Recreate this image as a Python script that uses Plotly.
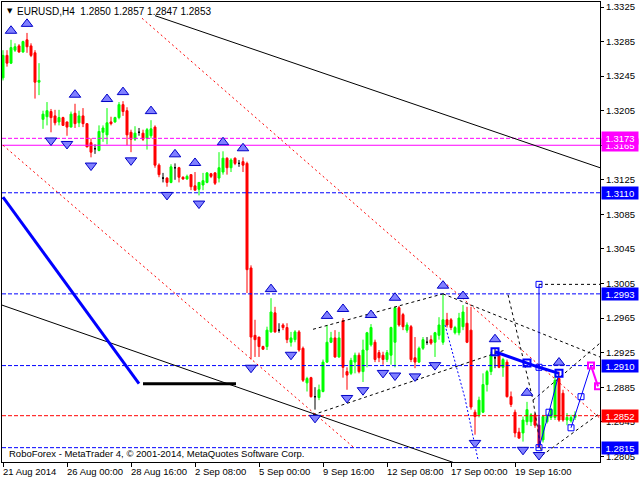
import plotly.graph_objects as go

# ---------------- data ----------------
symbol = "EURUSD,H4"
tick_idx = [0, 16, 32, 48, 64, 80, 96, 112, 128]
tick_text = ["21 Aug 2014", "26 Aug 00:00", "28 Aug 16:00", "2 Sep 08:00", "5 Sep 00:00",
             "9 Sep 16:00", "12 Sep 08:00", "17 Sep 00:00", "19 Sep 16:00"]
price_ticks = [1.2805, 1.2845, 1.2885, 1.2925, 1.2965, 1.3005, 1.3045, 1.3085, 1.3125,
               1.3165, 1.3205, 1.3245, 1.3285, 1.3325]
hidden_ticks = [1.3165]

opens = [1.3243, 1.3269, 1.3260, 1.3275, 1.3280, 1.3273, 1.3287, 1.3280, 1.3272, 1.3238,
         1.3195, 1.3198, 1.3204, 1.3199, 1.3192, 1.3197, 1.3192, 1.3186, 1.3202, 1.3191,
         1.3199, 1.3190, 1.3168, 1.3161, 1.3159, 1.3180, 1.3177, 1.3192, 1.3192, 1.3197,
         1.3212, 1.3205, 1.3180, 1.3172, 1.3180, 1.3179, 1.3173, 1.3176, 1.3186, 1.3142,
         1.3127, 1.3127, 1.3122, 1.3139, 1.3139, 1.3128, 1.3126, 1.3131, 1.3118, 1.3114,
         1.3119, 1.3122, 1.3132, 1.3133, 1.3127, 1.3134, 1.3150, 1.3139, 1.3150, 1.3144,
         1.3146, 1.3144, 1.3023, 1.2945, 1.2943, 1.2932, 1.2932, 1.2949, 1.2971, 1.2951,
         1.2957, 1.2954, 1.2937, 1.2940, 1.2949, 1.2930, 1.2890, 1.2896, 1.2874, 1.2873,
         1.2880, 1.2914, 1.2937, 1.2942, 1.2920, 1.2962, 1.2903, 1.2901, 1.2914, 1.2922,
         1.2903, 1.2928, 1.2934, 1.2937, 1.2925, 1.2922, 1.2917, 1.2922, 1.2937, 1.2977,
         1.2969, 1.2951, 1.2955, 1.2919, 1.2914, 1.2930, 1.2937, 1.2940, 1.2937, 1.2945,
         1.2937, 1.2963, 1.2963, 1.2948, 1.2948, 1.2955, 1.2959, 1.2951, 1.2856, 1.2853,
         1.2856, 1.2888, 1.2903, 1.2919, 1.2922, 1.2908, 1.2914, 1.2874, 1.2856, 1.2833,
         1.2832, 1.2845, 1.2845, 1.2853, 1.2841, 1.2824, 1.2845, 1.2850, 1.2850, 1.2895,
         1.2878, 1.2847, 1.2846, 1.2850]
highs = [1.3275, 1.3275, 1.3287, 1.3283, 1.3282, 1.3286, 1.3295, 1.3283, 1.3275, 1.3260,
         1.3205, 1.3215, 1.3207, 1.3206, 1.3206, 1.3198, 1.3192, 1.3204, 1.3213, 1.3205,
         1.3208, 1.3190, 1.3173, 1.3166, 1.3188, 1.3188, 1.3208, 1.3198, 1.3198, 1.3215,
         1.3216, 1.3209, 1.3183, 1.3187, 1.3185, 1.3183, 1.3185, 1.3194, 1.3188, 1.3144,
         1.3133, 1.3128, 1.3143, 1.3144, 1.3140, 1.3129, 1.3131, 1.3131, 1.3134, 1.3122,
         1.3133, 1.3134, 1.3133, 1.3134, 1.3157, 1.3158, 1.3151, 1.3150, 1.3151, 1.3148,
         1.3151, 1.3146, 1.3026, 1.2963, 1.2943, 1.2933, 1.2955, 1.2988, 1.2978, 1.2959,
         1.2959, 1.2959, 1.2949, 1.2951, 1.2951, 1.2932, 1.2897, 1.2897, 1.2885, 1.2888,
         1.2917, 1.2957, 1.2949, 1.2951, 1.2949, 1.2965, 1.2908, 1.2919, 1.2925, 1.2925,
         1.2940, 1.2949, 1.2958, 1.2940, 1.2928, 1.2926, 1.2928, 1.2955, 1.2978, 1.2979,
         1.2971, 1.2960, 1.2957, 1.2943, 1.2932, 1.2943, 1.2943, 1.2945, 1.2949, 1.2966,
         1.2992, 1.2971, 1.2965, 1.2956, 1.2971, 1.2980, 1.2978, 1.2978, 1.2859, 1.2874,
         1.2901, 1.2905, 1.2926, 1.2930, 1.2925, 1.2919, 1.2917, 1.2880, 1.2859, 1.2838,
         1.2851, 1.2868, 1.2855, 1.2855, 1.2851, 1.2853, 1.2853, 1.2861, 1.2901, 1.2903,
         1.2882, 1.2855, 1.2853, 1.2857]
lows = [1.3240, 1.3256, 1.3259, 1.3273, 1.3272, 1.3272, 1.3272, 1.3267, 1.3219, 1.3223,
        1.3184, 1.3188, 1.3180, 1.3188, 1.3188, 1.3188, 1.3176, 1.3186, 1.3185, 1.3186,
        1.3186, 1.3163, 1.3151, 1.3155, 1.3158, 1.3169, 1.3166, 1.3188, 1.3191, 1.3195,
        1.3199, 1.3165, 1.3157, 1.3170, 1.3176, 1.3170, 1.3160, 1.3173, 1.3139, 1.3128,
        1.3122, 1.3117, 1.3121, 1.3125, 1.3122, 1.3125, 1.3125, 1.3113, 1.3113, 1.3107,
        1.3113, 1.3121, 1.3127, 1.3119, 1.3122, 1.3131, 1.3131, 1.3134, 1.3142, 1.3140,
        1.3134, 1.2994, 1.2917, 1.2920, 1.2920, 1.2928, 1.2928, 1.2948, 1.2948, 1.2948,
        1.2951, 1.2936, 1.2932, 1.2937, 1.2926, 1.2891, 1.2880, 1.2873, 1.2859, 1.2870,
        1.2879, 1.2913, 1.2936, 1.2919, 1.2919, 1.2896, 1.2882, 1.2899, 1.2901, 1.2901,
        1.2891, 1.2908, 1.2932, 1.2914, 1.2914, 1.2911, 1.2914, 1.2911, 1.2908, 1.2955,
        1.2951, 1.2948, 1.2914, 1.2907, 1.2913, 1.2928, 1.2934, 1.2934, 1.2920, 1.2940,
        1.2934, 1.2954, 1.2951, 1.2946, 1.2945, 1.2951, 1.2936, 1.2859, 1.2830, 1.2850,
        1.2855, 1.2880, 1.2899, 1.2907, 1.2907, 1.2897, 1.2873, 1.2862, 1.2827, 1.2826,
        1.2822, 1.2841, 1.2840, 1.2838, 1.2816, 1.2821, 1.2843, 1.2847, 1.2847, 1.2845,
        1.2845, 1.2841, 1.2844, 1.2847]
closes = [1.3269, 1.3260, 1.3278, 1.3279, 1.3273, 1.3285, 1.3279, 1.3269, 1.3238, 1.3240,
          1.3201, 1.3205, 1.3197, 1.3191, 1.3197, 1.3188, 1.3186, 1.3201, 1.3190, 1.3199,
          1.3190, 1.3163, 1.3157, 1.3161, 1.3181, 1.3185, 1.3191, 1.3190, 1.3197, 1.3212,
          1.3204, 1.3177, 1.3172, 1.3179, 1.3180, 1.3172, 1.3183, 1.3184, 1.3142, 1.3131,
          1.3127, 1.3122, 1.3140, 1.3139, 1.3128, 1.3126, 1.3129, 1.3117, 1.3113, 1.3122,
          1.3124, 1.3133, 1.3129, 1.3121, 1.3139, 1.3150, 1.3139, 1.3148, 1.3144, 1.3144,
          1.3142, 1.3021, 1.2943, 1.2940, 1.2932, 1.2929, 1.2951, 1.2972, 1.2949, 1.2951,
          1.2954, 1.2940, 1.2942, 1.2949, 1.2928, 1.2893, 1.2895, 1.2874, 1.2874, 1.2882,
          1.2914, 1.2937, 1.2942, 1.2920, 1.2942, 1.2908, 1.2899, 1.2916, 1.2922, 1.2903,
          1.2928, 1.2948, 1.2954, 1.2917, 1.2919, 1.2917, 1.2925, 1.2954, 1.2977, 1.2957,
          1.2955, 1.2957, 1.2917, 1.2914, 1.2930, 1.2940, 1.2937, 1.2936, 1.2948, 1.2957,
          1.2963, 1.2957, 1.2954, 1.2954, 1.2965, 1.2972, 1.2937, 1.2862, 1.2851, 1.2870,
          1.2888, 1.2903, 1.2922, 1.2919, 1.2908, 1.2917, 1.2874, 1.2865, 1.2832, 1.2826,
          1.2847, 1.2859, 1.2853, 1.2841, 1.2816, 1.2851, 1.2851, 1.2859, 1.2893, 1.2847,
          1.2847, 1.2850, 1.2850, 1.2853]

# fractal bars
frac_up_idx = [2, 6, 18, 26, 30, 37, 43, 48, 55, 60, 67, 81, 85, 92, 98, 110, 115, 123, 131, 139]
frac_dn_idx = [12, 16, 22, 32, 41, 49, 62, 72, 78, 86, 90, 95, 98, 103, 108, 118, 130, 134]

# horizontal levels
levels = [1.3110, 1.2993, 1.2910, 1.2852, 1.2815, 1.3165, 1.3173]
level_colors = ["#0000FF", "#0000FF", "#0000FF", "#FF0000", "#0000FF", "#FF00FF", "#FF00FF"]
level_dash = ["4px,2px", "4px,2px", "4px,2px", "4px,2px", "4px,2px", "solid", "4px,2px"]

# trend lines (bar index, price)
black_upper_x, black_upper_y = [38, 149.25], [1.3315, 1.3139]
black_lower_x, black_lower_y = [-0.25, 112.5], [1.2980, 1.2798]
black_flat_x, black_flat_y = [35, 58.25], [1.2889, 1.2889]
blue_diag_x, blue_diag_y = [0, 34], [1.3105, 1.2889]
red_a_x, red_a_y = [34.75, 149.25], [1.3312, 1.2849]
red_b_x, red_b_y = [0, 87.5], [1.3165, 1.2816]
dots_black = [
    ([77.5, 110], [1.2952, 1.2993]),
    ([110, 149.25], [1.2993, 1.2920]),
    ([77.5, 125.5], [1.2853, 1.2928]),
    ([126.25, 132.5, 134.75], [1.2992, 1.2870, 1.2806]),
    ([134.75, 149.25], [1.2806, 1.2855]),
    ([132.5, 149.25], [1.2870, 1.2936]),
    ([134, 149.25], [1.3004, 1.3004]),
]
blue_dot_x, blue_dot_y = [110.5, 115.5, 118.75], [1.2957, 1.2872, 1.2801]

# projection
thick_x, thick_y = [123, 131, 134, 139], [1.2926, 1.2913, 1.2908, 1.2901]
thinA_x, thinA_y = [134, 136.5, 139], [1.2815, 1.2856, 1.2901]
thinB_x, thinB_y = [142, 144.5, 147], [1.2838, 1.2874, 1.2910]
mag_x, mag_y = [147, 148.75], [1.2910, 1.2886]
vert_x, vert_y = [134, 134], [1.2815, 1.3004]

# ---------------- figure ----------------
X0, X1 = -0.25, 149.25
Y0, Y1 = 1.27984, 1.33308
FONT = "Liberation Sans, Arial, sans-serif"

n = len(opens)
idx = list(range(n))
fig = go.Figure()


def add_line(xs, ys, color, width=1, dash="solid"):
    fig.add_trace(go.Scatter(x=xs, y=ys, mode="lines", line=dict(color=color, width=width, dash=dash),
                             hoverinfo="skip", showlegend=False))


# horizontal levels (behind)
for lv, col, ds in zip(levels, level_colors, level_dash):
    add_line([X0, X1], [lv, lv], col, 1, ds)

# trend lines
add_line(black_upper_x, black_upper_y, "#000000", 1)
add_line(black_lower_x, black_lower_y, "#000000", 1)
add_line(red_a_x, red_a_y, "#FF0000", 1, "2px,3px")
add_line(red_b_x, red_b_y, "#FF0000", 1, "2px,3px")
for xs, ys in dots_black:
    add_line(xs, ys, "#000000", 1, "3px,3px")
add_line(blue_dot_x, blue_dot_y, "#0000FF", 1, "2px,2px")
add_line(black_flat_x, black_flat_y, "#000000", 3)
add_line(blue_diag_x, blue_diag_y, "#0000FF", 3)


def add_candles(sel, color):
    fig.add_trace(go.Candlestick(
        x=[idx[i] for i in sel], open=[opens[i] for i in sel], high=[highs[i] for i in sel],
        low=[lows[i] for i in sel], close=[closes[i] for i in sel],
        increasing=dict(line=dict(color=color, width=1), fillcolor=color),
        decreasing=dict(line=dict(color=color, width=1), fillcolor=color),
        whiskerwidth=0, showlegend=False, hoverinfo="skip"))


bull = [i for i in idx if closes[i] > opens[i]]
bear = [i for i in idx if closes[i] < opens[i]]
doji = [i for i in idx if closes[i] == opens[i]]
add_candles(bull, "#00FF00")
add_candles(bear, "#FF0000")
add_candles(doji, "#000000")

# projection
add_line(vert_x, vert_y, "#0000FF", 1)
add_line(thinA_x, thinA_y, "#0000FF", 1)
add_line(thinB_x, thinB_y, "#0000FF", 1)
add_line(thick_x, thick_y, "#0000FF", 3)
add_line(mag_x, mag_y, "#FF00FF", 2)
fig.add_trace(go.Scatter(x=[thick_x[0], thick_x[1], thick_x[3]], y=[thick_y[0], thick_y[1], thick_y[3]],
                         mode="markers", marker=dict(symbol="square-open", size=7, color="#0000FF",
                                                     line=dict(width=2, color="#0000FF")),
                         hoverinfo="skip", showlegend=False))
fig.add_trace(go.Scatter(x=[thick_x[2], vert_x[1]] + thinA_x[:2] + thinB_x[:2],
                         y=[thick_y[2], vert_y[1]] + thinA_y[:2] + thinB_y[:2],
                         mode="markers", marker=dict(symbol="square-open", size=6, color="#0000FF",
                                                     line=dict(width=1, color="#0000FF")),
                         hoverinfo="skip", showlegend=False))
fig.add_trace(go.Scatter(x=mag_x, y=mag_y, mode="markers",
                         marker=dict(symbol="square-open", size=6, color="#FF00FF",
                                     line=dict(width=2, color="#FF00FF")),
                         hoverinfo="skip", showlegend=False))

# fractal arrows
up_off, dn_off = 0.00105, 0.00095
fig.add_trace(go.Scatter(x=frac_up_idx, y=[highs[i] + up_off for i in frac_up_idx], mode="markers",
                         marker=dict(symbol="triangle-up", size=10, color="#8080FF",
                                     line=dict(width=1, color="#0000C8")),
                         hoverinfo="skip", showlegend=False))
fig.add_trace(go.Scatter(x=frac_dn_idx, y=[lows[i] - dn_off for i in frac_dn_idx], mode="markers",
                         marker=dict(symbol="triangle-down", size=10, color="#8080FF",
                                     line=dict(width=1, color="#0000C8")),
                         hoverinfo="skip", showlegend=False))

annotations = []
# level label boxes
for lv, col in zip(levels, level_colors):
    annotations.append(dict(x=1, xref="paper", y=lv, yref="y", xanchor="left", yanchor="middle",
                            xshift=1, text=f"{lv:.4f}", showarrow=False, bgcolor=col, width=34,
                            height=10, borderpad=1, font=dict(family=FONT, size=9.5, color="#FFFFFF")))
# time labels
for ti, tt in zip(tick_idx, tick_text):
    annotations.append(dict(x=ti, xref="x", y=0, yref="paper", xanchor="left", yanchor="top",
                            xshift=-2, yshift=-2, text=tt, showarrow=False,
                            font=dict(family=FONT, size=9.5, color="#000000")))
# title
last = n - 1
annotations.append(dict(x=0, xref="paper", y=1, yref="paper", xanchor="left", yanchor="top",
                        xshift=13, yshift=-2, showarrow=False,
                        text=f"{symbol}  {opens[last]:.4f} {highs[last]:.4f} {lows[last]:.4f} {closes[last]:.4f}",
                        font=dict(family=FONT, size=10, color="#000000")))
annotations.append(dict(x=0, xref="paper", y=1, yref="paper", xanchor="left", yanchor="top",
                        xshift=3, yshift=-3, showarrow=False, text="▼",
                        font=dict(family="DejaVu Sans", size=7, color="#000000")))
annotations.append(dict(x=0, xref="paper", y=0, yref="paper", xanchor="left", yanchor="bottom",
                        xshift=5, yshift=1, showarrow=False,
                        text="RoboForex - MetaTrader 4, © 2001-2014, MetaQuotes Software Corp.",
                        font=dict(family=FONT, size=9.5, color="#000000")))

fig.update_layout(
    width=640, height=480,
    margin=dict(l=2, r=40, t=2, b=18),
    paper_bgcolor="#FFFFFF", plot_bgcolor="#FFFFFF",
    boxgap=0.5, boxgroupgap=0,
    showlegend=False,
    annotations=annotations,
    xaxis=dict(range=[X0, X1], tickvals=tick_idx, ticktext=[""] * len(tick_idx), ticks="outside",
               ticklen=4, tickcolor="#000000", showgrid=False, zeroline=False, showline=True,
               linecolor="#000000", linewidth=1, mirror=True, rangeslider=dict(visible=False),
               fixedrange=True),
    yaxis=dict(range=[Y0, Y1], side="right", tickvals=price_ticks,
               ticktext=["" if p in hidden_ticks else f"{p:.4f}" for p in price_ticks],
               ticks="outside", ticklen=3,
               tickcolor="#000000", tickfont=dict(family=FONT, size=9.5, color="#000000"),
               showgrid=False, zeroline=False, showline=True, linecolor="#000000", linewidth=1,
               mirror=True, fixedrange=True),
)

fig.write_html("out.html", config={"staticPlot": True},
               post_script="document.body.style.margin='0px';document.body.style.overflow='hidden';")
